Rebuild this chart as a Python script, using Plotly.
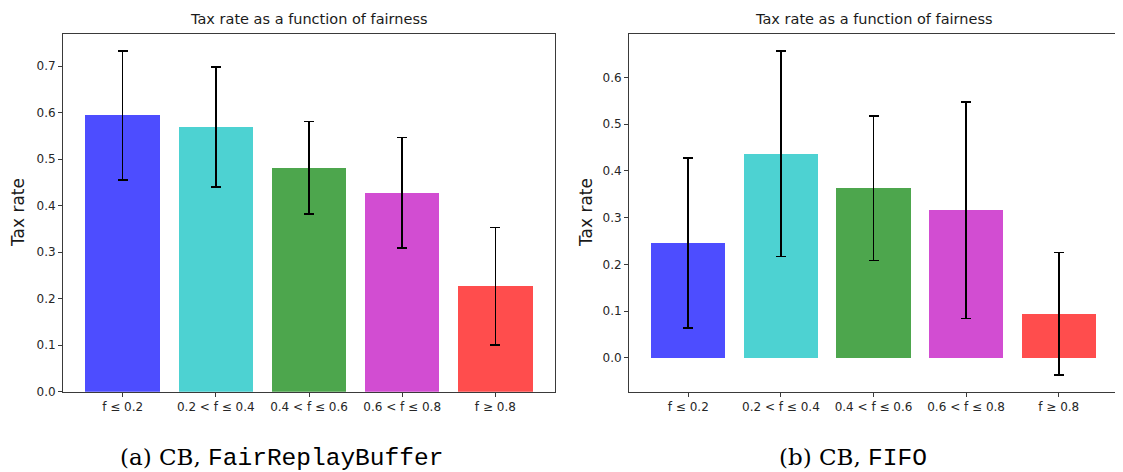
import plotly.graph_objects as go

# ---- data ----
categories = ["f ≤ 0.2", "0.2 &lt; f ≤ 0.4", "0.4 &lt; f ≤ 0.6", "0.6 &lt; f ≤ 0.8", "f ≥ 0.8"]
positions = [0, 1, 2, 3, 4]
fair_means = [0.594, 0.569, 0.481, 0.428, 0.227]
fair_errs = [0.139, 0.129, 0.0995, 0.1185, 0.126]
fifo_means = [0.246, 0.437, 0.363, 0.316, 0.094]
fifo_errs = [0.182, 0.220, 0.155, 0.2315, 0.131]
bar_colors = ["#4d4dff", "#4dd2d2", "#4da64d", "#d24dd2", "#ff4d4d"]
title_text = "Tax rate as a function of fairness"
ylabel = "Tax rate"
yticks_left = [0.0, 0.1, 0.2, 0.3, 0.4, 0.5, 0.6, 0.7]
yticks_right = [0.0, 0.1, 0.2, 0.3, 0.4, 0.5, 0.6]

# page body has an 8px default margin; compensate
OFF = 8
W, H = 1123 - OFF, 472 - OFF
fig = go.Figure()

def px_x(p):
    return (p - OFF) / W

def px_y(p):
    return 1 - (p - OFF) / H

for means, errs, xa, ya in [(fair_means, fair_errs, "x", "y"), (fifo_means, fifo_errs, "x2", "y2")]:
    fig.add_trace(go.Bar(
        x=positions, y=means, width=0.8,
        marker=dict(color=bar_colors, line=dict(width=0)),
        error_y=dict(type="data", array=errs, visible=True, color="black", thickness=1.6, width=5),
        xaxis=xa, yaxis=ya, showlegend=False,
    ))

tickfont = dict(family="DejaVu Sans", size=12, color="#262626")
axis_common = dict(showline=True, mirror=True, linecolor="#3a3a3a", linewidth=1,
                   ticks="outside", ticklen=4, tickcolor="#3a3a3a", showgrid=False,
                   zeroline=False, tickfont=tickfont)

ybot, ytop = px_y(391.7), px_y(34)
fig.update_layout(
    width=W, height=H, margin=dict(l=0, r=0, t=0, b=0, autoexpand=False),
    paper_bgcolor="white", plot_bgcolor="white", bargap=0,
    xaxis=dict(domain=[px_x(63), px_x(555)], range=[-0.64, 4.64], tickvals=positions,
               ticktext=categories, anchor="y", **axis_common),
    yaxis=dict(domain=[ybot, ytop], range=[0, 0.769], tickvals=yticks_left,
               ticktext=[f"{v:.1f}" for v in yticks_left], anchor="x", **axis_common),
    xaxis2=dict(domain=[px_x(629), px_x(1118)], range=[-0.64, 4.64], tickvals=positions,
                ticktext=categories, anchor="y2", **axis_common),
    yaxis2=dict(domain=[ybot, ytop], range=[-0.0726, 0.693], tickvals=yticks_right,
                ticktext=[f"{v:.1f}" for v in yticks_right], anchor="x2", **axis_common),
)

annotations = []
# titles
for cx in [(63 + 555) / 2, (629 + 1118) / 2]:
    annotations.append(dict(x=px_x(cx), y=px_y(19), xref="paper", yref="paper",
                            text=title_text, showarrow=False, xanchor="center", yanchor="middle",
                            font=dict(family="DejaVu Sans", size=14.5, color="#1a1a1a")))
# y labels
for cx in [18, 586]:
    annotations.append(dict(x=px_x(cx), y=px_y(213), xref="paper", yref="paper",
                            text=ylabel, textangle=-90, showarrow=False,
                            xanchor="center", yanchor="middle",
                            font=dict(family="DejaVu Sans", size=17, color="#1a1a1a")))
# captions
cap_font = dict(family="DejaVu Serif", size=23, color="black")
mono = "<span style='font-family:Liberation Mono;font-size:24.5px'>{}</span>"
annotations.append(dict(x=px_x(281.5), y=px_y(458), xref="paper", yref="paper", showarrow=False,
                        xanchor="center", yanchor="middle", font=cap_font,
                        text="(a) CB, " + mono.format("FairReplayBuffer")))
annotations.append(dict(x=px_x(853), y=px_y(458), xref="paper", yref="paper", showarrow=False,
                        xanchor="center", yanchor="middle", font=cap_font,
                        text="(b) CB, " + mono.format("FIFO")))
fig.update_layout(annotations=annotations)

fig.write_html("out.html")
